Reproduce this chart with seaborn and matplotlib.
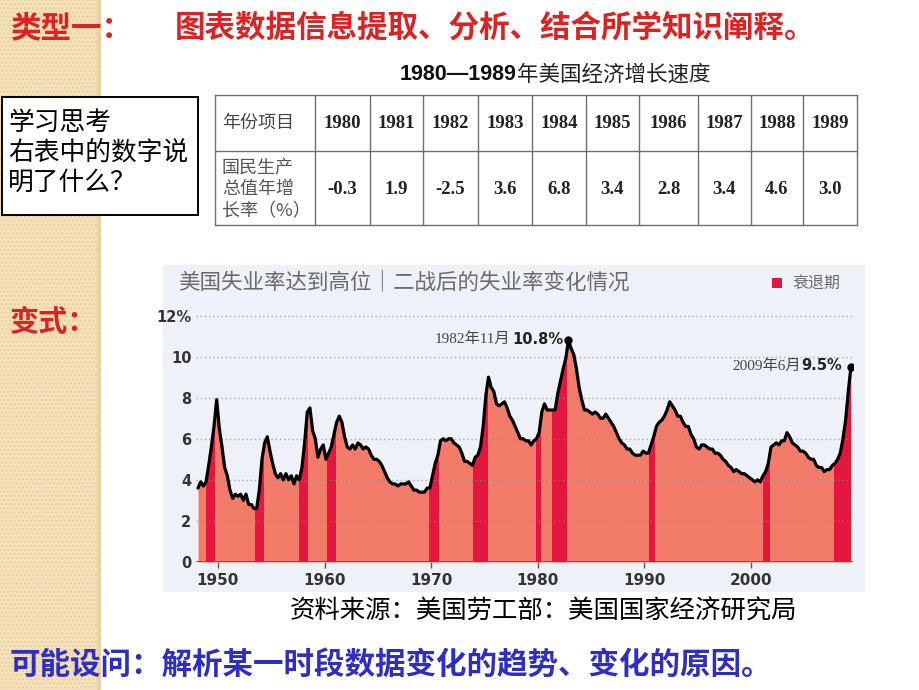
import numpy as np
import matplotlib
matplotlib.use("Agg")
import matplotlib.pyplot as plt
import seaborn as sns
from matplotlib import font_manager as fm
from matplotlib.patches import Rectangle

# ---------------- data ----------------
table_years = ["1980", "1981", "1982", "1983", "1984", "1985", "1986", "1987", "1988", "1989"]
gnp_growth = ["-0.3", "1.9", "-2.5", "3.6", "6.8", "3.4", "2.8", "3.4", "4.6", "3.0"]

start_year = 1948  # quarterly readings, first quarter of 1948 onward
rate_1948_1959 = [3.6, 3.9, 3.7, 3.9, 4.7, 5.6, 6.6, 7.9, 6.5, 5.6, 4.6, 4.2,
                  3.5, 3.1, 3.3, 3.2, 3.3, 3.0, 3.3, 2.8, 2.8, 2.6, 2.6, 3.5,
                  5.0, 5.8, 6.1, 5.4, 4.8, 4.3, 4.1, 4.3, 4.0, 4.3, 4.0, 4.2,
                  3.8, 4.2, 4.0, 4.6, 5.8, 7.3, 7.5, 6.4, 6.0, 5.1, 5.5, 5.7]
rate_1960_1969 = [5.0, 5.3, 5.6, 6.2, 6.8, 7.1, 6.8, 6.1, 5.6, 5.5, 5.7, 5.5,
                  5.8, 5.7, 5.5, 5.6, 5.5, 5.2, 5.0, 5.0, 4.9, 4.7, 4.4, 4.1,
                  3.9, 3.8, 3.8, 3.7, 3.8, 3.8, 3.8, 3.9, 3.7, 3.5, 3.5, 3.4,
                  3.4, 3.4, 3.6, 3.6]
rate_1970_1979 = [4.2, 4.8, 5.2, 5.9, 6.0, 5.9, 6.0, 6.0, 5.8, 5.7, 5.6, 5.3,
                  4.9, 4.9, 4.8, 4.7, 5.1, 5.2, 5.6, 6.6, 8.1, 9.0, 8.5, 8.3,
                  7.7, 7.6, 7.7, 7.8, 7.5, 7.1, 6.9, 6.6, 6.3, 6.0, 6.0, 5.9,
                  5.9, 5.7, 5.9, 6.0]
rate_1980_1989 = [6.3, 7.3, 7.7, 7.4, 7.4, 7.4, 7.4, 8.2, 8.8, 9.4, 9.9, 10.8,
                  10.4, 10.1, 9.4, 8.5, 7.9, 7.4, 7.4, 7.3, 7.2, 7.3, 7.2, 7.0,
                  7.0, 7.2, 7.0, 6.8, 6.6, 6.3, 6.0, 5.8, 5.7, 5.5, 5.5, 5.3,
                  5.2, 5.2, 5.2, 5.4]
rate_1990_1999 = [5.3, 5.3, 5.7, 6.1, 6.6, 6.8, 6.9, 7.1, 7.4, 7.8, 7.6, 7.4,
                  7.1, 7.1, 6.8, 6.6, 6.6, 6.2, 6.0, 5.6, 5.5, 5.7, 5.7, 5.6,
                  5.5, 5.5, 5.3, 5.3, 5.2, 5.0, 4.9, 4.7, 4.6, 4.4, 4.5, 4.4,
                  4.3, 4.3, 4.2, 4.1]
rate_2000_2009 = [4.0, 3.9, 4.0, 3.9, 4.2, 4.4, 4.8, 5.6, 5.7, 5.8, 5.7, 5.9,
                  5.9, 6.3, 6.1, 5.8, 5.7, 5.6, 5.4, 5.4, 5.3, 5.1, 5.0, 5.0,
                  4.7, 4.6, 4.6, 4.4, 4.5, 4.5, 4.7, 4.8, 5.0, 5.3, 6.0, 6.9,
                  8.3, 9.5]

recession_start = [1948.85, 1953.5, 1957.6, 1960.2, 1969.8, 1973.9, 1979.8, 1981.3, 1990.4, 2001.1, 2007.8]
recession_end = [1949.7, 1954.3, 1958.4, 1961.1, 1970.7, 1975.3, 1980.3, 1982.7, 1991.0, 2001.8, 2009.4]

y_ticks = [0, 2, 4, 6, 8, 10, 12]
y_labels = ["0", "2", "4", "6", "8", "10", "12%"]
x_ticks = [1950, 1960, 1970, 1980, 1990, 2000]

peak_labels = [("1982年11月", "10.8%"), ("2009年6月", "9.5%")]

# ---------------- fonts ----------------
sns.set_theme(style="white")
names = {f.name for f in fm.fontManager.ttflist}
CJK = "Noto Sans CJK SC"
NARROW = "Liberation Sans Narrow" if "Liberation Sans Narrow" in names else "DejaVu Sans"
plt.rcParams["font.family"] = [CJK, "DejaVu Sans"]
plt.rcParams["axes.unicode_minus"] = False

rate = np.array(rate_1948_1959 + rate_1960_1969 + rate_1970_1979 +
                rate_1980_1989 + rate_1990_1999 + rate_2000_2009)
x = start_year + (np.arange(len(rate)) + 0.5) / 4.0

W, H = 920, 690
fig = plt.figure(figsize=(W / 100, H / 100), dpi=100)
fig.patch.set_facecolor("white")

bg = fig.add_axes([0, 0, 1, 1])
bg.set_xlim(0, W)
bg.set_ylim(H, 0)
bg.axis("off")
bg.set_zorder(0)

# beige textured stripe
bg.add_patch(Rectangle((0, 0), 100, H, facecolor="#F4E1BA", edgecolor="#E7CF9F",
                       hatch="....", lw=0))
bg.add_patch(Rectangle((97, 0), 4, H, facecolor="#E9D3A6", lw=0))

RED = "#DC2323"
BLUE = "#2E2EC4"

bg.text(10, 28, "类型一：", color=RED, fontsize=22, fontweight="bold", va="center", ha="left")
bg.text(175, 28, "图表数据信息提取、分析、结合所学知识阐释。", color=RED, fontsize=22,
        fontweight="bold", va="center", ha="left")

# table title
bg.text(517, 75, "1980—1989", fontsize=15.5, fontweight="bold", color="#111",
        family=["Liberation Sans", "DejaVu Sans"], ha="right", va="center")
bg.text(517, 75, "年美国经济增长速度", fontsize=15.5, color="#222", ha="left", va="center")

# left question box
bg.add_patch(Rectangle((2, 97), 196, 118, facecolor="white", edgecolor="black", lw=1.4))
for i, line in enumerate(["学习思考", "右表中的数字说", "明了什么？"]):
    bg.text(8, 123 + i * 30, line, fontsize=18.5, color="black", ha="left", va="center")

# table
col_edges = [215, 315, 370, 423, 478, 532, 586, 639, 698, 751, 803, 857]
row_edges = [95, 151, 225]
for cx in col_edges:
    bg.plot([cx, cx], [row_edges[0], row_edges[-1]], color="#6E6E6E", lw=1.0)
for ry in row_edges:
    bg.plot([col_edges[0], col_edges[-1]], [ry, ry], color="#6E6E6E", lw=1.0)
bg.text(222, 123, "年份项目", fontsize=13, color="#444", ha="left", va="center")
for j, (line) in enumerate(["国民生产", "总值年增", "长率（%）"]):
    bg.text(222, 167 + j * 22, line, fontsize=13, color="#555", ha="left", va="center")
for k, (yr, val) in enumerate(zip(table_years, gnp_growth)):
    cx = (col_edges[k + 1] + col_edges[k + 2]) / 2
    bg.text(cx, 124, yr, fontsize=13.5, fontweight="bold", color="#222",
            family=["Liberation Serif", "DejaVu Serif"], ha="center", va="center")
    bg.text(cx, 189, val, fontsize=13.5, fontweight="bold", color="#222",
            family=["Liberation Serif", "DejaVu Serif"], ha="center", va="center")

bg.text(10, 322, "变式：", color=RED, fontsize=21, fontweight="bold", va="center", ha="left")

# chart panel
bg.add_patch(Rectangle((163, 265), 702, 327, facecolor="#EEF2F8", lw=0))
bg.text(178, 282, "美国失业率达到高位｜二战后的失业率变化情况", fontsize=15.5,
        color="#6A6A6A", fontweight="light", ha="left", va="center")
bg.add_patch(Rectangle((772, 278), 10, 10, facecolor="#E3163D", lw=0))
bg.text(792, 283, "衰退期", fontsize=11.5, color="#6A6A6A", ha="left", va="center")

bg.text(290, 612, "资料来源：美国劳工部：美国国家经济研究局", fontsize=18.3, color="black",
        ha="left", va="center")
bg.text(10, 665, "可能设问：解析某一时段数据变化的趋势、变化的原因。", fontsize=22,
        color=BLUE, fontweight="bold", ha="left", va="center")

# ---------------- chart axes ----------------
px_per_year = 10.66
px_per_unit = 20.54
x0, x1 = 1947.9, 2009.6
y0, y1 = 0, 12.25
left_px = 218 - (1950 - x0) * px_per_year
right_px = 218 + (x1 - 1950) * px_per_year
bottom_px = 562
top_px = bottom_px - y1 * px_per_unit
ax = fig.add_axes([left_px / W, 1 - bottom_px / H, (right_px - left_px) / W,
                   (bottom_px - top_px) / H])
ax.set_zorder(2)
ax.patch.set_alpha(0)
ax.set_xlim(x0, x1)
ax.set_ylim(y0, y1)

FILL = "#F27B6A"
CRIMSON = "#E3163D"
poly = ax.fill_between(x, 0, rate, color=FILL, lw=0, zorder=1)
clip_path = poly.get_paths()[0]
for s, e in zip(recession_start, recession_end):
    span = ax.axvspan(s, e, color=CRIMSON, lw=0, zorder=2)
    span.set_clip_path(clip_path, ax.transData)

for yt in y_ticks[1:]:
    ax.axhline(yt, color="#8E8E8E", lw=1.0, ls=(0, (1, 2)), alpha=0.7, zorder=3)

sns.lineplot(x=x, y=rate, color="black", lw=2.3, ax=ax, zorder=4)

ax.axhline(0, color="#555", lw=1.2, zorder=5)

for s in ax.spines.values():
    s.set_visible(False)
ax.set_yticks(y_ticks)
ax.set_yticklabels(y_labels)
ax.set_xticks(x_ticks)
ax.set_xticklabels([str(t) for t in x_ticks])
ax.tick_params(axis="y", length=0, pad=3, labelsize=10.5, labelcolor="#333")
ax.tick_params(axis="x", length=4, width=1, color="#555", pad=4, labelsize=11,
               labelcolor="#333", direction="out", bottom=True)
for lab in ax.get_xticklabels() + ax.get_yticklabels():
    lab.set_family(NARROW)
    lab.set_fontweight("bold")
ax.set_xlabel("")
ax.set_ylabel("")

# peak markers and annotations
peak_idx = [int(np.argmax(np.where(x < 1990, rate, -1))), len(rate) - 1]
offsets = [(-58, -5), (-50, -9)]
for (date_txt, val_txt), idx, (off_date, off_val) in zip(peak_labels, peak_idx, offsets):
    px, py = x[idx], rate[idx]
    ax.plot([px], [py], "o", color="black", ms=5, zorder=6)
    ax.annotate(val_txt, xy=(px, py), xytext=(off_val, 1), textcoords="offset pixels",
                ha="right", va="center", fontsize=10.5, fontweight="bold", color="#222",
                family=[NARROW, "DejaVu Sans"], zorder=6)
    ax.annotate(date_txt, xy=(px, py), xytext=(off_date, 1), textcoords="offset pixels",
                ha="right", va="center", fontsize=11, color="#444",
                family=["Liberation Serif", CJK], zorder=6)

fig.savefig("out.png", dpi=100, facecolor="white")
